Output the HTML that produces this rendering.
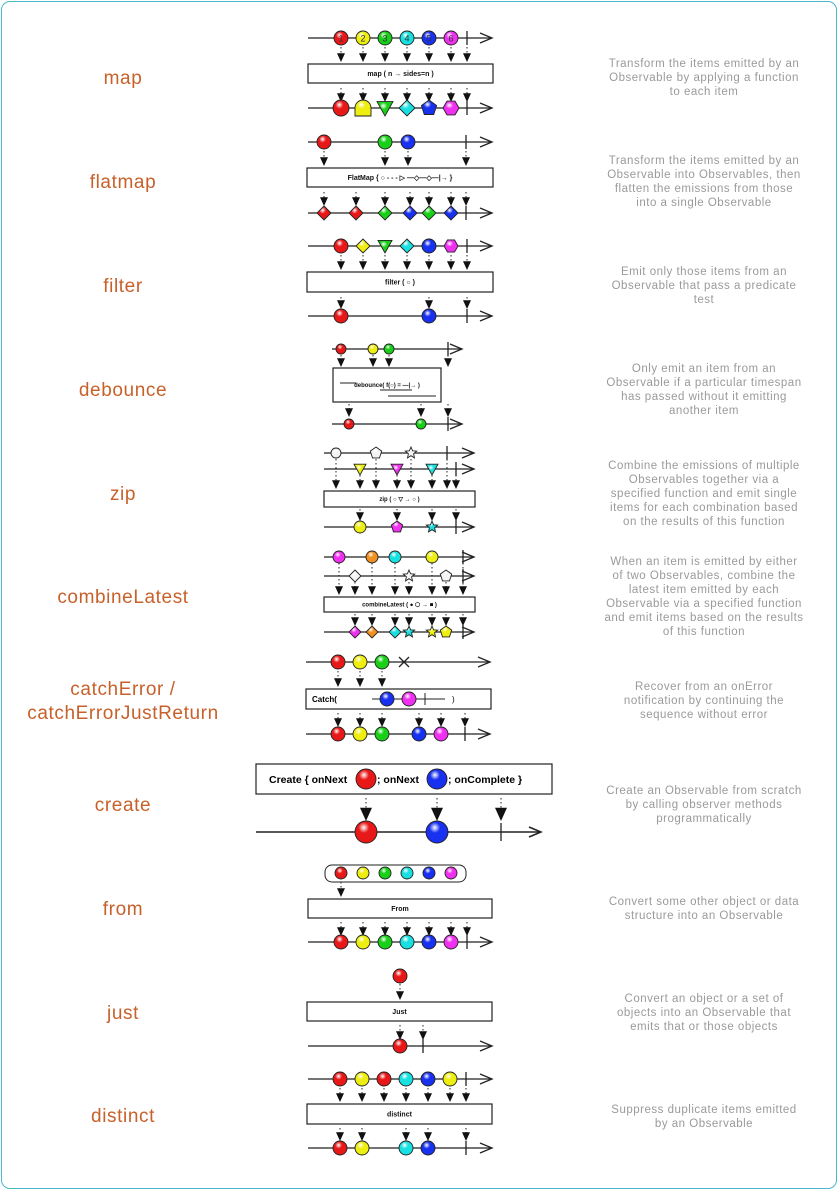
<!DOCTYPE html>
<html><head><meta charset="utf-8"><style>
html,body{margin:0;padding:0;background:#fff}
#frame{position:absolute;left:1px;top:1px;width:836px;height:1188px;border:1.5px solid #4ab8c8;border-radius:9px;box-sizing:border-box}
.lbl{position:absolute;width:246px;left:0;text-align:center;font:19px "Liberation Sans",sans-serif;color:#c8602a;line-height:24px;letter-spacing:0.6px}
.desc{position:absolute;left:574px;width:260px;text-align:center;font:11.5px "Liberation Sans",sans-serif;color:#9a9a9a;line-height:14px;letter-spacing:0.5px;white-space:nowrap}
svg{position:absolute;left:0;top:0}
</style></head><body>
<div id="frame"></div>
<div class="lbl" style="top:67px">map</div>
<div class="lbl" style="top:171px">flatmap</div>
<div class="lbl" style="top:275px">filter</div>
<div class="lbl" style="top:379px">debounce</div>
<div class="lbl" style="top:483px">zip</div>
<div class="lbl" style="top:586px">combineLatest</div>
<div class="lbl" style="top:678px">catchError /<br>catchErrorJustReturn</div>
<div class="lbl" style="top:794px">create</div>
<div class="lbl" style="top:898px">from</div>
<div class="lbl" style="top:1002px">just</div>
<div class="lbl" style="top:1105px">distinct</div>

<div class="desc" style="top:57px">Transform the items emitted by an<br>Observable by applying a function<br>to each item</div>
<div class="desc" style="top:154px">Transform the items emitted by an<br>Observable into Observables, then<br>flatten the emissions from those<br>into a single Observable</div>
<div class="desc" style="top:265px">Emit only those items from an<br>Observable that pass a predicate<br>test</div>
<div class="desc" style="top:362px">Only emit an item from an<br>Observable if a particular timespan<br>has passed without it emitting<br>another item</div>
<div class="desc" style="top:459px">Combine the emissions of multiple<br>Observables together via a<br>specified function and emit single<br>items for each combination based<br>on the results of this function</div>
<div class="desc" style="top:555px">When an item is emitted by either<br>of two Observables, combine the<br>latest item emitted by each<br>Observable via a specified function<br>and emit items based on the results<br>of this function</div>
<div class="desc" style="top:680px">Recover from an onError<br>notification by continuing the<br>sequence without error</div>
<div class="desc" style="top:784px">Create an Observable from scratch<br>by calling observer methods<br>programmatically</div>
<div class="desc" style="top:895px">Convert some other object or data<br>structure into an Observable</div>
<div class="desc" style="top:992px">Convert an object or a set of<br>objects into an Observable that<br>emits that or those objects</div>
<div class="desc" style="top:1103px">Suppress duplicate items emitted<br>by an Observable</div>

<svg id="s" width="840" height="1192">
<defs></defs>
</svg>
<script>
const C={r:'#e81818',y:'#eeee10',g:'#18d018',c:'#18e0e0',b:'#1830f0',m:'#f030f0',o:'#f09020',w:'#f4f4f4'};
const svg=document.getElementById('s');const NS='http://www.w3.org/2000/svg';
const defs=svg.querySelector('defs');
for(const k in C){const g=document.createElementNS(NS,'radialGradient');g.setAttribute('id','g'+k);g.setAttribute('cx','0.4');g.setAttribute('cy','0.3');g.setAttribute('r','0.7');
g.innerHTML=`<stop offset="0" stop-color="#fff"/><stop offset="0.35" stop-color="${C[k]}"/><stop offset="1" stop-color="${C[k]}"/>`;defs.appendChild(g);}
let out='';
function line(x1,x2,y,w){w=w||1.3;out+=`<line x1="${x1}" y1="${y}" x2="${x2}" y2="${y}" stroke="#222" stroke-width="${w}"/><polyline points="${x2-12},${y-5} ${x2},${y} ${x2-12},${y+5}" fill="none" stroke="#222" stroke-width="${w}"/>`;}
function tick(x,y,h){h=h||7;out+=`<line x1="${x}" y1="${y-h}" x2="${x}" y2="${y+h}" stroke="#222" stroke-width="1.3"/>`;}
function arr(x,y1,y2,s){s=s||4;out+=`<line x1="${x}" y1="${y1}" x2="${x}" y2="${y2-s*2}" stroke="#222" stroke-dasharray="1.5,2.5"/><polygon points="${x-s},${y2-s*2.2} ${x+s},${y2-s*2.2} ${x},${y2}" fill="#111"/>`;}
function sh(t,x,y,k,r,txt){r=r||7;const f=`url(#g${k})`,st='stroke="#222" stroke-width="0.9"';let p;
if(t=='o')p=`<circle cx="${x}" cy="${y}" r="${r}" fill="${f}" ${st}/>`;
else if(t=='d')p=`<polygon points="${x},${y-r} ${x+r},${y} ${x},${y+r} ${x-r},${y}" fill="${f}" ${st}/>`;
else if(t=='v')p=`<polygon points="${x-r},${y-r*0.8} ${x+r},${y-r*0.8} ${x},${y+r}" fill="${f}" ${st}/>`;
else{const n=t=='p'?5:t=='h'?6:10;let pts=[];for(let i=0;i<n;i++){const a=-Math.PI/2+i*2*Math.PI/n+(t=='h'?Math.PI/6:0);const rr=t=='s'&&i%2?r*0.45:r;pts.push((x+rr*Math.cos(a)).toFixed(1)+','+(y+rr*Math.sin(a)).toFixed(1));}p=`<polygon points="${pts.join(' ')}" fill="${f}" ${st}/>`;}
if(t=='bell')p=`<path d="M${x-r} ${y+r}L${x-r} ${y}A${r} ${r} 0 0 1 ${x+r} ${y}L${x+r} ${y+r}Z" fill="${f}" ${st}/>`;
out+=p;if(txt)out+=`<text x="${x}" y="${y+3.5}" font-size="9" text-anchor="middle" font-family="Liberation Sans" fill="#333">${txt}</text>`;}
function box(x1,y1,x2,y2,txt,fs){fs=fs||7;out+=`<rect x="${x1}" y="${y1}" width="${x2-x1}" height="${y2-y1}" fill="#fff" stroke="#222" stroke-width="1.2"/>`;if(txt)out+=`<text x="${(x1+x2)/2}" y="${(y1+y2)/2+fs*0.35}" font-size="${fs}" font-weight="bold" text-anchor="middle" font-family="Liberation Sans" fill="#111">${txt}</text>`;}
function row(x1,x2,y,items,tk){line(x1,x2,y);if(tk)tick(tk,y);items.forEach(i=>sh(i[0],i[1],y,i[2],i[3],i[4]));}
function arrs(xs,y1,y2){xs.forEach(x=>arr(x,y1,y2));}
// map
const mx=[341,363,385,407,429,451];const mk=['r','y','g','c','b','m'];
row(308,492,38,mx.map((x,i)=>['o',x,mk[i],7,i+1]),467);
arrs(mx.concat([467]),47,62);box(308,64,493,83,'map (  n  →  sides=n  )');
arrs(mx.concat([467]),88,102);
row(308,492,108,[['o',341,'r',8],['bell',363,'y',8],['v',385,'g',8],['d',407,'c',8],['p',429,'b',8],['h',451,'m',8]],467);
// flatmap
row(308,492,142,[['o',324,'r',7],['o',385,'g',7],['o',408,'b',7]],466);
arrs([324,385,408,466],151,166);box(307,168,493,187,'FlatMap {  ○  - - - ▷  —◇—◇—|→  }');
arrs([324,356,385,410,429,451,466],192,206);
row(308,492,213,[['d',324,'r',7],['d',356,'r',7],['d',385,'g',7],['d',410,'b',7],['d',429,'g',7],['d',451,'b',7]],466);
// filter
row(308,492,246,[['o',341,'r',7],['d',363,'y',7],['v',385,'g',7],['d',407,'c',7],['o',429,'b',7],['h',451,'m',7]],467);
arrs([341,363,385,407,429,451,467],255,270);box(307,272,493,292,'filter (  ○  )');
arrs([341,429,467],297,309);
row(308,492,316,[['o',341,'r',7],['o',429,'b',7]],467);
// debounce
row(332,462,349,[['o',341,'r',5],['o',373,'y',5],['o',389,'g',5]],448);
arrs([341,373,389,448],355,367);box(333,368,441,402,'debounce( f(○) = —|→ )',6);
out+=`<line x1="340" y1="383" x2="356" y2="383" stroke="#222"/><line x1="380" y1="390" x2="412" y2="390" stroke="#222"/><line x1="388" y1="396" x2="436" y2="396" stroke="#222"/>`;
arrs([349,421,448],404,417);
row(332,462,424,[['o',349,'r',5],['o',421,'g',5]],448);
// zip
row(324,474,453,[['o',336,'w',5],['p',376,'w',6],['s',411,'w',6]],447);
row(324,474,469,[['v',360,'y',6],['v',397,'m',6],['v',432,'c',6]],456);
arrs([336,376,411,447],459,489);arrs([360,397,432,456],475,489);
box(324,491,475,507,'zip ( ○  ▽ → ○ )',6);
arrs([360,397,432,456],509,521);
row(324,474,527,[['o',360,'y',6],['p',397,'m',6],['s',432,'c',6]],456);
// combineLatest
row(324,474,557,[['o',339,'m',6],['o',372,'o',6],['o',395,'c',6],['o',432,'y',6]],463);
row(324,474,576,[['d',355,'w',6],['s',409,'w',6],['p',446,'w',6]],463);
arrs([339,372,395,432,463],563,595);arrs([355,409,446],582,595);
box(324,597,475,612,'combineLatest ( ●  ⬡  → ■ )',6);
arrs([355,372,395,409,432,446,463],614,626);
row(324,474,632,[['d',355,'m',6],['d',372,'o',6],['d',395,'c',6],['s',409,'c',6],['s',432,'y',6],['p',446,'y',6]],463);
// catchError
row(306,490,662,[['o',338,'r',7],['o',360,'y',7],['o',382,'g',7]]);
out+=`<path d="M399 657L409 667M409 657L399 667" stroke="#222" stroke-width="1.3"/>`;
arrs([338,360,382],671,687);box(306,689,491,709,'');
out+=`<text x="312" y="702" font-size="8" font-weight="bold" font-family="Liberation Sans">Catch(</text><line x1="372" y1="699" x2="445" y2="699" stroke="#222"/><line x1="425" y1="693" x2="425" y2="705" stroke="#222"/><text x="452" y="702" font-size="8" font-family="Liberation Sans">)</text>`;
sh('o',387,699,'b',7);sh('o',409,699,'m',7);
arrs([338,360,382,419,441,465],713,727);
row(306,490,734,[['o',338,'r',7],['o',360,'y',7],['o',382,'g',7],['o',419,'b',7],['o',441,'m',7]],465);
// create
box(256,764,552,794,'');
out+=`<text x="269" y="783" font-size="10.5" font-weight="bold" font-family="Liberation Sans">Create { onNext</text><text x="377" y="783" font-size="10.5" font-weight="bold" font-family="Liberation Sans">; onNext</text><text x="448" y="783" font-size="10.5" font-weight="bold" font-family="Liberation Sans">; onComplete }</text>`;
sh('o',366,779,'r',10);sh('o',437,779,'b',10);
arr(366,798,821,6);arr(437,798,821,6);arr(501,798,821,6);
line(256,541,832,1.5);tick(501,832,9);sh('o',366,832,'r',11);sh('o',437,832,'b',11);
// from
out+=`<rect x="325" y="865" width="141" height="17" rx="7" fill="#fff" stroke="#222"/>`;
mx.forEach((x,i)=>sh('o',x,873,mk[i],6));
arr(341,882,897);box(308,899,492,918,'From');
arrs(mx.concat([467]),922,936);
row(308,492,942,mx.map((x,i)=>['o',x,mk[i],7]),467);
// just
sh('o',400,976,'r',7);arr(400,984,1000);box(307,1002,492,1021,'Just');
arrs([400,423],1025,1040);row(308,492,1046,[['o',400,'r',7]],423);
// distinct
const dk=['r','y','r','c','b','y'];const dx=[340,362,384,406,428,450];
row(308,492,1079,dx.map((x,i)=>['o',x,dk[i],7]),466);
arrs(dx.concat([466]),1088,1102);box(307,1104,492,1124,'distinct');
arrs([340,362,406,428,466],1128,1141);
row(308,492,1148,[['o',340,'r',7],['o',362,'y',7],['o',406,'c',7],['o',428,'b',7]],466);
svg.insertAdjacentHTML('beforeend',out);
</script>
</body></html>
